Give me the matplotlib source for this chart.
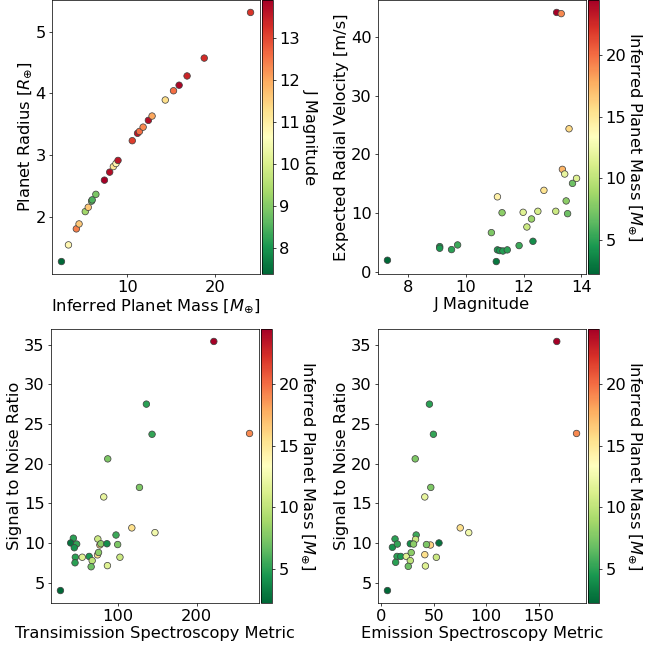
import matplotlib
matplotlib.use('Agg')
import matplotlib.pyplot as plt
from matplotlib.ticker import MultipleLocator

# panel 1: mass vs radius, coloured by J magnitude
mass_p1 = [2.49, 3.29, 4.19, 4.50, 5.21, 5.55, 5.93, 6.00, 6.42, 7.40, 8.00, 8.42, 8.72,
           8.95, 10.58, 11.18, 11.40, 11.82, 12.42, 12.84, 14.35, 15.29, 15.93, 16.84, 18.80, 24.09]
radius_p1 = [1.27, 1.54, 1.80, 1.88, 2.08, 2.15, 2.25, 2.27, 2.36, 2.59, 2.72, 2.81, 2.86,
             2.91, 3.23, 3.35, 3.38, 3.45, 3.56, 3.63, 3.89, 4.04, 4.13, 4.28, 4.57, 5.31]
jmag_p1 = [7.39, 10.8, 12.4, 11.6, 9.3, 11.6, 8.7, 8.5, 8.9, 13.9, 13.7, 11.2, 10.8,
           13.6, 13.1, 13.6, 12.6, 12.3, 13.7, 12.0, 11.3, 12.6, 13.8, 13.4, 13.3, 13.2]

# panel 2: J magnitude vs expected RV, coloured by mass
jmag_p2 = [7.28, 9.09, 9.09, 9.50, 9.71, 10.88, 11.05, 11.09, 11.09, 11.17, 11.25, 11.28,
           11.43, 11.84, 11.98, 12.11, 12.27, 12.32, 12.49, 12.70, 13.11, 13.14, 13.30,
           13.34, 13.42, 13.47, 13.52, 13.57, 13.69, 13.83]
rv_p2 = [2.03, 4.35, 4.07, 3.84, 4.63, 6.72, 1.81, 3.79, 12.8, 3.67, 10.1, 3.60,
         3.79, 4.52, 10.17, 7.68, 9.04, 5.25, 10.34, 13.9, 10.34, 44.1, 43.9,
         17.46, 16.67, 12.1, 9.94, 24.35, 15.08, 15.93]
mass_p2 = [2.24, 4.5, 4.5, 5.0, 5.5, 7.5, 3.0, 4.5, 14.3, 4.5, 8.0, 4.8,
           5.0, 5.5, 11.5, 10.5, 8.5, 4.0, 11.0, 15.3, 10.5, 24.46, 19.0,
           17.5, 12.0, 8.0, 7.0, 15.8, 7.0, 11.5]

# panel 3: TSM vs SNR, coloured by mass
tsm_p3 = [26.9, 221.8, 136.1, 143.3, 267.2, 87.0, 127.3, 81.9, 117.6, 147.0, 97.5, 43.3,
          39.9, 47.5, 44.5, 74.4, 77.0, 78.2, 86.0, 99.6, 45.8, 54.6, 63.4, 74.0, 75.3,
          67.2, 45.4, 65.9, 86.6, 102.5]
snr_p3 = [4.0, 35.4, 27.5, 23.7, 23.8, 20.6, 17.0, 15.8, 11.9, 11.3, 11.0, 10.6,
          10.0, 9.86, 9.4, 10.5, 9.75, 9.9, 9.9, 9.8, 8.2, 8.2, 8.3, 8.5, 8.8,
          7.77, 7.5, 7.0, 7.14, 8.2]
mass_p3 = [2.24, 24.46, 5.0, 5.2, 19.0, 7.5, 7.5, 12.0, 15.5, 12.5, 5.5, 5.0,
           2.8, 5.2, 4.3, 10.5, 16.0, 8.0, 4.0, 7.5, 5.0, 11.5, 4.5, 15.5, 8.0,
           10.0, 5.0, 7.0, 11.5, 10.5]

# panel 4: ESM vs SNR, coloured by mass
esm_p4 = [6.0, 167.0, 45.9, 49.7, 185.8, 32.4, 47.2, 41.5, 75.2, 83.3, 13.2, 10.7,
          15.4, 33.3, 32.7, 27.7, 30.8, 46.9, 43.1, 55.0, 15.1, 18.6, 23.9, 28.6,
          27.7, 13.8, 25.8, 41.5, 52.5, 42.1]
snr_p4 = [4.0, 35.4, 27.5, 23.7, 23.8, 20.6, 17.0, 15.8, 11.9, 11.3, 10.5, 9.45,
          9.86, 11.0, 10.45, 9.9, 9.86, 9.74, 9.8, 10.0, 8.3, 8.3, 8.3, 8.78,
          7.77, 7.56, 7.05, 8.52, 8.19, 7.1]
mass_p4 = [2.24, 24.46, 5.0, 5.2, 19.0, 7.5, 7.5, 12.0, 15.5, 12.5, 5.0, 4.3,
           5.2, 5.5, 10.5, 4.0, 8.0, 16.0, 7.5, 2.8, 5.0, 4.5, 11.5, 8.0,
           10.0, 5.0, 7.0, 15.5, 10.5, 11.5]

mass_label = r'Inferred Planet Mass [$M_{\oplus}$]'

plt.rcParams['font.size'] = 18
plt.rcParams['xtick.labelsize'] = 18
plt.rcParams['ytick.labelsize'] = 18
plt.rcParams['axes.labelpad'] = 2

W, H = 650, 649
fig = plt.figure(figsize=(W / 65, H / 65), dpi=65)


def add_panel(left, top):
    # axes + colorbar placed by pixel box
    ax = fig.add_axes([left / W, (H - top - 274) / H, 208 / W, 274 / H])
    cax = fig.add_axes([(left + 210) / W, (H - top - 274) / H, 11 / W, 274 / H])
    return ax, cax


def scatter_panel(ax, cax, x, y, c, xlabel, ylabel, clabel):
    sc = ax.scatter(x, y, c=c, cmap='RdYlGn_r', s=52, edgecolors='0.25', linewidths=0.8)
    ax.set_xlabel(xlabel)
    ax.set_ylabel(ylabel)
    cb = fig.colorbar(sc, cax=cax)
    cb.set_label(clabel, rotation=270, labelpad=20)
    return cb


ax1, cax1 = add_panel(52, 0)
scatter_panel(ax1, cax1, mass_p1, radius_p1, jmag_p1,
              r'Inferred Planet Mass [$M_{\oplus}$]', r'Planet Radius [$R_{\oplus}$]', 'J Magnitude')

ax2, cax2 = add_panel(378, 0)
scatter_panel(ax2, cax2, jmag_p2, rv_p2, mass_p2,
              'J Magnitude', 'Expected Radial Velocity [m/s]', mass_label)
ax2.xaxis.set_major_locator(MultipleLocator(2))

ax3, cax3 = add_panel(51, 329)
scatter_panel(ax3, cax3, tsm_p3, snr_p3, mass_p3,
              'Transimission Spectroscopy Metric', 'Signal to Noise Ratio', mass_label)

ax4, cax4 = add_panel(378, 329)
scatter_panel(ax4, cax4, esm_p4, snr_p4, mass_p4,
              'Emission Spectroscopy Metric', 'Signal to Noise Ratio', mass_label)
ax4.xaxis.set_major_locator(MultipleLocator(50))

plt.savefig('out.png', dpi=65)
plt.close()
